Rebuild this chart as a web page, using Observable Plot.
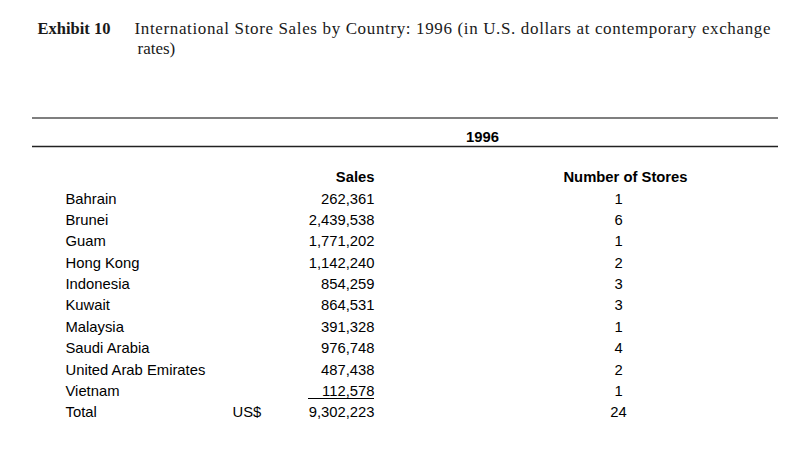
<!DOCTYPE html>
<html><head><meta charset="utf-8">
<script src="https://cdn.jsdelivr.net/npm/d3@7"></script>
<script src="https://cdn.jsdelivr.net/npm/@observablehq/plot@0.6"></script>
<style>body{margin:0;background:#fff}</style>
</head><body><div id="chart"></div>
<script>
// ---- data ----
const countries = ["Bahrain","Brunei","Guam","Hong Kong","Indonesia","Kuwait","Malaysia","Saudi Arabia","United Arab Emirates","Vietnam"];
const sales = [262361,2439538,1771202,1142240,854259,864531,391328,976748,487438,112578];
const stores = [1,6,1,2,3,3,1,4,2,1];
const totalLabel = "Total";
const currencyLabel = "US$";
const totalSales = 9302223;
const totalStores = 24;
const yearLabel = "1996";
const salesHeader = "Sales";
const storesHeader = "Number of Stores";
const exhibitLabel = "Exhibit 10";
const titleLine1 = "International Store Sales by Country: 1996 (in U.S. dollars at contemporary exchange";
const titleLine2 = "rates)";

// ---- layout ----
const W = 807, H = 452;
const colCountry = 65, colCurrency = 232, colSales = 374, colStores = 618, colStoresHead = 625;
const headerY = 177, firstRowY = 198.4, rowStep = 21.36;
const rows = countries.map((c, i) => ({label: c, sales: sales[i], stores: stores[i], y: firstRowY + i * rowStep}));
const totalRow = {label: totalLabel, sales: totalSales, stores: totalStores, y: firstRowY + countries.length * rowStep};
const allRows = [...rows, totalRow];
const fmt = d3.format(",");
const sans = "'Liberation Sans', Arial, Helvetica, sans-serif";
const serif = "'Liberation Serif', 'Times New Roman', serif";
const fs = 14.8;

const chart = Plot.plot({
  width: W, height: H, margin: 0,
  x: {domain: [0, W], range: [0, W], axis: null},
  y: {domain: [0, H], range: [0, H], axis: null},
  style: {fontFamily: sans, background: "#fff", color: "#000"},
  marks: [
    // title
    Plot.text([exhibitLabel], {x: 37, y: 33, text: d => d, textAnchor: "start", lineAnchor: "bottom", fontFamily: serif, fontWeight: "bold", fontSize: 16.5, fill: "#1a1a1a"}),
    Plot.text([titleLine1], {x: 134, y: 33, text: d => d, textAnchor: "start", lineAnchor: "bottom", fontFamily: serif, fontSize: 17, fill: "#1a1a1a"}),
    Plot.text([titleLine2], {x: 137, y: 53, text: d => d, textAnchor: "start", lineAnchor: "bottom", fontFamily: serif, fontSize: 17, fill: "#1a1a1a"}),
    // rules
    Plot.ruleY([117.5], {x1: 32, x2: 778, stroke: "#555", strokeWidth: 1.5}),
    Plot.ruleY([146], {x1: 32, x2: 778, stroke: "#222", strokeWidth: 1.6}),
    Plot.text([yearLabel], {x: 482, y: 137, text: d => d, fontWeight: "bold", fontSize: fs}),
    // column headers
    Plot.text([salesHeader], {x: colSales, y: headerY, text: d => d, textAnchor: "end", fontWeight: "bold", fontSize: fs}),
    Plot.text([storesHeader], {x: colStoresHead, y: headerY, text: d => d, textAnchor: "middle", fontWeight: "bold", fontSize: fs}),
    // rows
    Plot.text(allRows, {x: colCountry, y: "y", text: "label", textAnchor: "start", fontSize: fs}),
    Plot.text(allRows, {x: colSales, y: "y", text: d => fmt(d.sales), textAnchor: "end", fontSize: fs}),
    Plot.text(allRows, {x: colStores, y: "y", text: d => String(d.stores), textAnchor: "middle", fontSize: fs}),
    Plot.text([totalRow], {x: colCurrency, y: "y", text: () => currencyLabel, textAnchor: "start", fontSize: fs}),
    // subtotal underline
    Plot.ruleY([totalRow.y - 14], {x1: 308, x2: colSales, stroke: "#000", strokeWidth: 1.2})
  ]
});
document.getElementById("chart").appendChild(chart);
// justify the first title line like the reference
d3.select(chart).selectAll("text").filter(function(){ return this.textContent === titleLine1; })
  .attr("textLength", 636).attr("lengthAdjust", "spacing");
</script>
</body></html>
